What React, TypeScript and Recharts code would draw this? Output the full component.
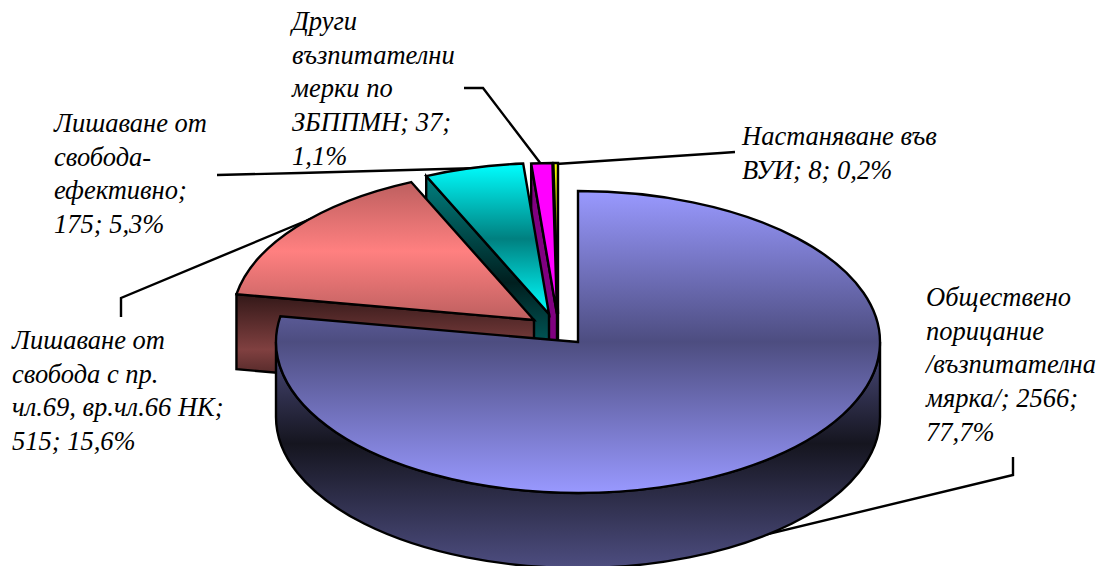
import React from "react";
import { PieChart, Pie } from "recharts";

// Listed anticlockwise from 12 o'clock, which is also back-to-front draw order.
const categories = [
  "Настаняване във ВУИ",
  "Други възпитателни мерки по ЗБППМН",
  "Лишаване от свобода-ефективно",
  "Лишаване от свобода с пр. чл.69, вр.чл.66 НК",
  "Обществено порицание /възпитателна мярка/",
];
const values = [8, 37, 175, 515, 2566];
const labelLines = [
  ["Настаняване във", "ВУИ; 8; 0,2%"],
  ["Други", "възпитателни", "мерки по", "ЗБППМН; 37;", "1,1%"],
  ["Лишаване от", "свобода-", "ефективно;", "175; 5,3%"],
  ["Лишаване от", "свобода с пр.", "чл.69, вр.чл.66 НК;", "515; 15,6%"],
  ["Обществено", "порицание", "/възпитателна", "мярка/; 2566;", "77,7%"],
];

const chartData = categories.map((name, i) => ({ name, value: values[i] }));

// Layout
const CX = 578;
const CY = 342;
const RX = 302;
const TILT = 0.5;
const DEPTH = 75;
const STROKE = 2.4;
const explodeX = [-20, -21, -29, -44, 0];
const explodeY = [-28, -28, -28, -22, 0];
const labelX = [742, 292, 54, 12, 926];
const labelY = [145, 30, 132, 349, 306];
const LINE_H = 33.7;
const leaders = [
  "735,152 721,153 556,164",
  "464,88 483,88 541,164",
  "217,175 300,173 480,168",
  "121,317 121,298 320,215",
  "1013,457 1013,475 760,536",
];
const topStops = [
  ["#ffff00", "#808000", "#808000"],
  ["#ff00ff", "#ff00ff", "#ff00ff"],
  ["#00ffff", "#008080", "#00ffff"],
  ["#bd5f5f", "#ff8080", "#bd5f5f"],
  ["#9999ff", "#4d4d80", "#9999ff"],
];
const wallStops = [
  ["#808000", "#404000", "#808000"],
  ["#800080", "#800080", "#800080"],
  ["#008080", "#001f1f", "#008080"],
  ["#331818", "#804040", "#331818"],
  ["#4d4d80", "#15151f", "#4d4d80"],
];
const wallMid = [0.5, 0.5, 0.5, 0.55, 0.45];

const Grad = ({ id, stops, mid }: { id: string; stops: string[]; mid: number }) => (
  <linearGradient id={id} x1="0" y1="0" x2="0" y2="1">
    <stop offset="0" stopColor={stops[0]} />
    <stop offset={mid} stopColor={stops[1]} />
    <stop offset="1" stopColor={stops[2]} />
  </linearGradient>
);

const Slice = (props: any) => {
  const { cx, cy, outerRadius, startAngle, endAngle, index } = props;
  const i: number = index ?? categories.indexOf(props.name);
  const ax = cx + explodeX[i];
  const ay = cy + explodeY[i];
  const rx = outerRadius;
  const ry = outerRadius * TILT;
  const pt = (deg: number, dy = 0) => {
    const a = (deg * Math.PI) / 180;
    return [ax + rx * Math.cos(a), ay - ry * Math.sin(a) + dy];
  };
  const [sx, sy] = pt(startAngle);
  const [ex, ey] = pt(endAngle);
  const large = endAngle - startAngle > 180 ? 1 : 0;
  const top = `M${ax},${ay} L${sx},${sy} A${rx},${ry} 0 ${large} 0 ${ex},${ey} Z`;

  const walls: string[] = [];
  const quad = (deg: number) => {
    const [x, y] = pt(deg);
    const [x2, y2] = pt(deg, DEPTH);
    return `M${ax},${ay} L${x},${y} L${x2},${y2} L${ax},${ay + DEPTH} Z`;
  };
  if (Math.cos((endAngle * Math.PI) / 180) < -1e-6) walls.push(quad(endAngle));
  if (Math.cos((startAngle * Math.PI) / 180) > 1e-6) walls.push(quad(startAngle));
  const from = Math.max(startAngle, 180);
  const to = Math.min(endAngle, 360);
  if (to > from) {
    const [ax0, ay0] = pt(from);
    const [ax1, ay1] = pt(to);
    const [bx1, by1] = pt(to, DEPTH);
    const [bx0, by0] = pt(from, DEPTH);
    walls.push(
      `M${ax0},${ay0} A${rx},${ry} 0 0 0 ${ax1},${ay1} L${bx1},${by1} A${rx},${ry} 0 0 1 ${bx0},${by0} Z`
    );
  }
  return (
    <g>
      <defs>
        <Grad id={`top${i}`} stops={topStops[i]} mid={0.5} />
        <Grad id={`wall${i}`} stops={wallStops[i]} mid={wallMid[i]} />
      </defs>
      <polyline points={leaders[i]} fill="none" stroke="#000" strokeWidth={STROKE} />
      {walls.map((d, k) => (
        <path key={k} d={d} fill={`url(#wall${i})`} stroke="#000" strokeWidth={STROKE} />
      ))}
      <path d={top} fill={`url(#top${i})`} stroke="#000" strokeWidth={STROKE} />
    </g>
  );
};

const renderLabel = (props: any) => {
  const i: number = props.index;
  return (
    <text
      key={i}
      x={labelX[i]}
      y={labelY[i]}
      fontFamily="'Liberation Serif', serif"
      fontStyle="italic"
      fontSize={26.5}
      fill="#000"
      textAnchor="start"
    >
      {labelLines[i].map((line, k) => (
        <tspan key={k} x={labelX[i]} y={labelY[i] + k * LINE_H}>
          {line}
        </tspan>
      ))}
    </text>
  );
};

export default function App() {
  return (
    <div style={{ position: "absolute", left: 0, top: 0, width: 1100, height: 566, background: "#fff" }}>
      <PieChart width={1100} height={566} margin={{ top: 0, right: 0, bottom: 0, left: 0 }}>
        <Pie
          data={chartData}
          dataKey="value"
          nameKey="name"
          cx={CX}
          cy={CY}
          innerRadius={0}
          outerRadius={RX}
          startAngle={90}
          endAngle={450}
          stroke="none"
          isAnimationActive={false}
          rootTabIndex={-1}
          shape={Slice}
          activeShape={Slice}
          inactiveShape={Slice}
          label={renderLabel}
          labelLine={false}
        />
      </PieChart>
    </div>
  );
}
